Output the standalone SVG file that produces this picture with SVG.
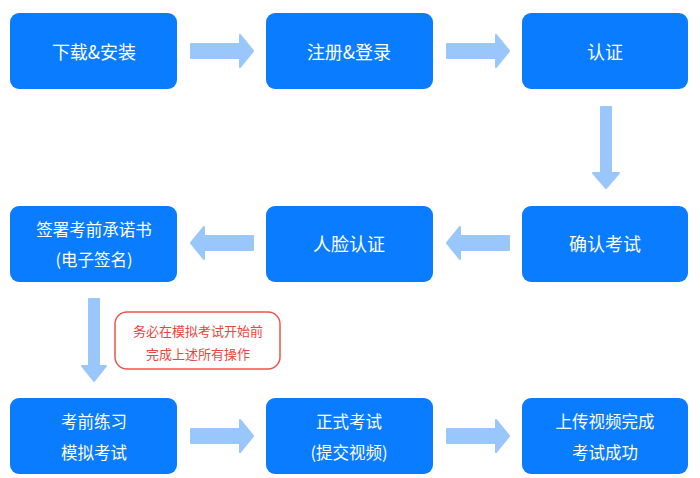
<svg xmlns="http://www.w3.org/2000/svg" width="700" height="478" viewBox="0 0 700 478">
<style>
.box{fill:#0a7cff}
.t{fill:#fff;font-family:"Noto Sans CJK SC","Noto Sans",sans-serif;font-size:18px;text-anchor:middle;dominant-baseline:central}
.t2{font-size:16.5px}
.arr{fill:#99c7fc;stroke:#99c7fc;stroke-width:2;stroke-linejoin:round}
.note{fill:#fff;stroke:#ef5350;stroke-width:1.5}
.nt{fill:#e8453c;font-family:"Noto Sans CJK SC","Noto Sans",sans-serif;font-size:13px;text-anchor:middle;dominant-baseline:central}
</style>
<rect width="700" height="478" fill="#fff"/>
<g id="connectors">
<path class="arr" d="M191,44 H240 V35 L253,51 L240,67 V58 H191 Z"/>
<path class="arr" d="M447,44 H496 V35 L509,51 L496,67 V58 H447 Z"/>
<path class="arr" d="M601,107 V173 H593 L606,188 L619,173 H611 V107 Z"/>
<path class="arr" d="M509,236 H460 V227 L447,243 L460,259 V250 H509 Z"/>
<path class="arr" d="M253,236 H204 V227 L191,243 L204,259 V250 H253 Z"/>
<path class="arr" d="M89,299 V366 H82 L94,381 L106,366 H99 V299 Z"/>
<path class="arr" d="M191,429 H240 V420 L253,436 L240,452 V443 H191 Z"/>
<path class="arr" d="M447,429 H496 V420 L509,436 L496,452 V443 H447 Z"/>
</g>
<g id="n1"><rect class="box" x="10" y="13" width="167" height="76" rx="9"/><text class="t" x="94" y="51">下载&amp;安装</text></g>
<g id="n2"><rect class="box" x="266" y="13" width="167" height="76" rx="9"/><text class="t" x="349" y="51">注册&amp;登录</text></g>
<g id="n3"><rect class="box" x="522" y="13" width="166" height="76" rx="9"/><text class="t" x="605" y="51">认证</text></g>
<g id="n4"><rect class="box" x="522" y="206" width="166" height="76" rx="9"/><text class="t" x="605" y="243">确认考试</text></g>
<g id="n5"><rect class="box" x="266" y="206" width="167" height="76" rx="9"/><text class="t" x="349" y="243">人脸认证</text></g>
<g id="n6"><rect class="box" x="10" y="206" width="167" height="76" rx="9"/><text class="t t2" x="94" y="229">签署考前承诺书</text><text class="t t2" x="94" y="259">(电子签名)</text></g>
<g id="note"><rect class="note" x="115" y="312" width="165" height="57" rx="12"/><text class="nt" x="198" y="330">务必在模拟考试开始前</text><text class="nt" x="198" y="353">完成上述所有操作</text></g>
<g id="n7"><rect class="box" x="10" y="398" width="167" height="76" rx="9"/><text class="t t2" x="94" y="421">考前练习</text><text class="t t2" x="94" y="452">模拟考试</text></g>
<g id="n8"><rect class="box" x="266" y="398" width="167" height="76" rx="9"/><text class="t t2" x="349" y="421">正式考试</text><text class="t t2" x="349" y="452">(提交视频)</text></g>
<g id="n9"><rect class="box" x="522" y="398" width="166" height="76" rx="9"/><text class="t t2" x="605" y="421">上传视频完成</text><text class="t t2" x="605" y="452">考试成功</text></g>
</svg>
